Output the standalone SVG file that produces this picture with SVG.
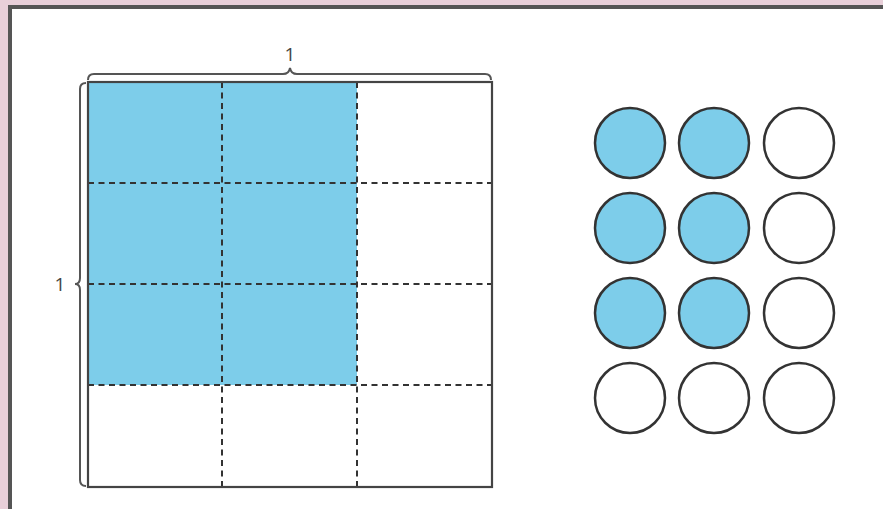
<svg xmlns="http://www.w3.org/2000/svg" width="883" height="509" viewBox="0 0 883 509">
<style>
.dash{stroke:#333;stroke-width:2;stroke-dasharray:6 4.5;fill:none}
.edge{stroke:#444;stroke-width:2.2;fill:none}
.brace{stroke:#555;stroke-width:2;fill:none}
.c{stroke:#333;stroke-width:2.5}
.blue{fill:#7dcdea}
.white{fill:#fff}
.lbl{font-family:"Open Sans","Liberation Sans",sans-serif;font-size:19px;fill:#444;text-anchor:middle}
</style>
<rect width="883" height="509" fill="#e8cfd9"/>
<rect x="10" y="7" width="900" height="520" fill="#fff" stroke="#555" stroke-width="4"/>
<g id="grid">
<rect x="88" y="82" width="269" height="303" class="blue"/>
<line x1="222" y1="82" x2="222" y2="487" class="dash"/>
<line x1="357" y1="82" x2="357" y2="487" class="dash"/>
<line x1="88" y1="183" x2="492" y2="183" class="dash"/>
<line x1="88" y1="284" x2="492" y2="284" class="dash"/>
<line x1="88" y1="385" x2="492" y2="385" class="dash"/>
<rect x="88" y="82" width="404" height="405" class="edge"/>
</g>
<g id="brace-top">
<path d="M88,80 Q88,74 94,74 L283,74 Q289,74 290,68 Q291,74 297,74 L485,74 Q491,74 491,80" class="brace"/>
<text x="290" y="61" class="lbl">1</text>
</g>
<g id="brace-left">
<path d="M86,83 Q80,83 80,89 L80,278 Q80,284 75,284 Q80,284 80,290 L80,480 Q80,486 86,486" class="brace"/>
<text x="60" y="291" class="lbl">1</text>
</g>
<g id="circles">
<circle cx="630" cy="143" r="35" class="c blue"/>
<circle cx="714" cy="143" r="35" class="c blue"/>
<circle cx="799" cy="143" r="35" class="c white"/>
<circle cx="630" cy="228" r="35" class="c blue"/>
<circle cx="714" cy="228" r="35" class="c blue"/>
<circle cx="799" cy="228" r="35" class="c white"/>
<circle cx="630" cy="313" r="35" class="c blue"/>
<circle cx="714" cy="313" r="35" class="c blue"/>
<circle cx="799" cy="313" r="35" class="c white"/>
<circle cx="630" cy="398" r="35" class="c white"/>
<circle cx="714" cy="398" r="35" class="c white"/>
<circle cx="799" cy="398" r="35" class="c white"/>
</g>
</svg>
